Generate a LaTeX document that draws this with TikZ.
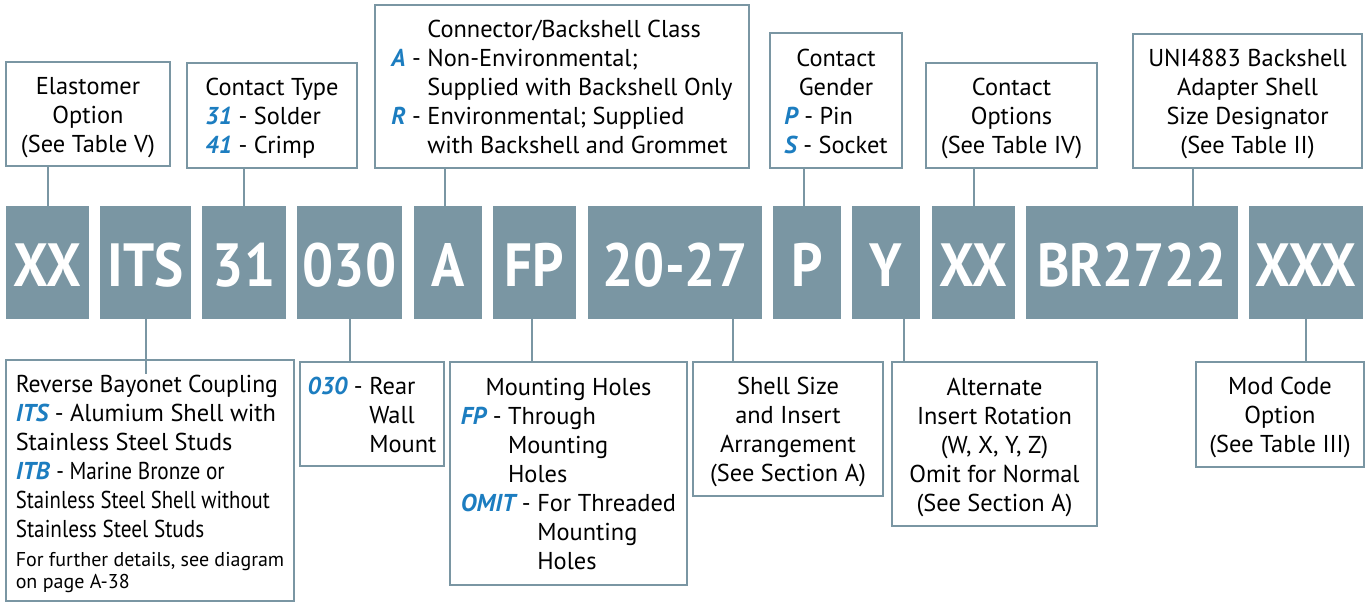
\documentclass[tikz,border=0pt]{standalone}
\usepackage{fontspec}
\setmainfont{PT Sans}
\newfontfamily\codefont[FakeStretch=0.9]{PT Sans}
\usepackage{xcolor}
\usepackage{graphicx}
\usepackage{tikz}

\definecolor{slate}{RGB}{122,150,163}
\definecolor{codeblue}{RGB}{28,125,192}

% blue key letters, centred title rows, squeezed rows
\newcommand{\hl}[1]{\textcolor{codeblue}{\bfseries\itshape #1}}
\newcommand{\ctr}[1]{\multicolumn{1}{@{}c@{}}{#1}}
\newcommand{\squeeze}[2][0.87]{\scalebox{#1}[1]{#2}}
\newcommand{\note}[1]{{\fontsize{10}{11}\selectfont\begin{tabular}[t]{@{}l@{}}#1\end{tabular}}}
\newcommand{\lines}[2]{\raisebox{-1.6pt}[\height][\depth]{\begin{tabular}{@{}#1@{}}#2\end{tabular}}}

\tikzset{
  code/.style={fill=slate, text=white, inner sep=0pt, minimum height=56.5pt,
    text height=24pt, text depth=0pt, font=\codefont\fontsize{30.5}{30.5}\selectfont\bfseries},
  desc/.style={draw=slate, line width=1.3pt, fill=white, inner sep=0pt,
    font=\fontsize{12.2}{14.5}\selectfont},
  wire/.style={draw=slate, line width=1pt}
}

\begin{document}
\begin{tikzpicture}[x=0.5pt,y=-0.5pt]
  \useasboundingbox (0,0) rectangle (1369,602);

  % the part number
  \node[code, minimum width=41.5pt] (xx)  at (47.5,262.5)  {XX};
  \node[code, minimum width=45.5pt] (its) at (145.5,262.5) {ITS};
  \node[code, minimum width=42pt]   (ct)  at (244,262.5)   {31};
  \node[code, minimum width=52.5pt] (rw)  at (349.5,262.5) {030};
  \node[code, minimum width=34pt]   (cls) at (448,262.5)   {A};
  \node[code, minimum width=41.5pt] (fp)  at (534.5,262.5) {FP};
  \node[code, minimum width=87pt]   (sz)  at (675,262.5)   {20-27};
  \node[code, minimum width=34pt]   (pp)  at (807,262.5)   {P};
  \node[code, minimum width=34pt]   (yy)  at (886,262.5)   {Y};
  \node[code, minimum width=41.5pt] (opt) at (973.5,262.5) {XX};
  \node[code, minimum width=106pt]  (br)  at (1132,262.5)  {BR2722};
  \node[code, minimum width=57pt]   (xxx) at (1306,262.5)  {XXX};

  % upper boxes
  \node[desc, minimum width=82pt, minimum height=52pt] (elast) at (88,114)
    {\lines{c}{Elastomer\\Option\\(See Table V)}};
  \node[desc, minimum width=85pt, minimum height=52.5pt] (ctype) at (272,115.5)
    {\lines{l}{Contact Type\\\hl{31} - Solder\\\hl{41} - Crimp}};
  \node[desc, minimum width=187pt, minimum height=81.5pt] (cclass) at (562,86.5)
    {\lines{l}{\phantom{\hl{A} - }Connector/Backshell Class\\
      \hl{A} - Non-Environmental;\\
      \phantom{\hl{A} - }Supplied with Backshell Only\\
      \hl{R} - Environmental; Supplied\\
      \phantom{\hl{R} - }with Backshell and Grommet}};
  \node[desc, minimum width=66pt, minimum height=67.5pt] (gender) at (836,100.5)
    {\lines{l}{\ctr{Contact}\\\ctr{Gender}\\\hl{P} - Pin\\\hl{S} - Socket}};
  \node[desc, minimum width=85.5pt, minimum height=52.5pt] (copts) at (1011.5,115.5)
    {\lines{c}{Contact\\Options\\(See Table IV)}};
  \node[desc, minimum width=114.5pt, minimum height=67pt] (adapter) at (1247.5,101)
    {\lines{c}{UNI4883 Backshell\\Adapter Shell\\Size Designator\\(See Table II)}};

  % lower boxes
  \node[desc, minimum width=144pt, minimum height=120.5pt] (coupling) at (150,480.5)
    {\lines{l}{\squeeze[0.97]{Reverse Bayonet Coupling}\\
      \hl{ITS} - Alumium Shell with\\
      Stainless Steel Studs\\
      \hl{ITB} \squeeze{- Marine Bronze or}\\
      \squeeze[0.85]{Stainless Steel Shell without}\\
      \squeeze{Stainless Steel Studs}\\
      \note{For further details, see diagram\\on page A-38}}};
  \node[desc, minimum width=72pt, minimum height=52pt] (rwall) at (372,414)
    {\lines{l}{\hl{030} - Rear\\\phantom{\hl{030} - }Wall\\\phantom{\hl{030} - }Mount}};
  \node[desc, minimum width=118.5pt, minimum height=111.5pt] (mholes) at (568.5,473.5)
    {\lines{l}{\ctr{Mounting Holes}\\
      \hl{FP} - Through\\
      \phantom{\hl{FP} - }Mounting\\
      \phantom{\hl{FP} - }Holes\\
      \hl{OMIT} - For Threaded\\
      \phantom{\hl{OMIT} - }Mounting\\
      \phantom{\hl{OMIT} - }Holes}};
  \node[desc, minimum width=95pt, minimum height=67pt] (shell) at (788,429)
    {\lines{c}{Shell Size\\and Insert\\Arrangement\\(See Section A)}};
  \node[desc, minimum width=102.5pt, minimum height=82pt] (rotation) at (994.5,444)
    {\lines{c}{Alternate\\Insert Rotation\\(W, X, Y, Z)\\Omit for Normal\\(See Section A)}};
  \node[desc, minimum width=84pt, minimum height=52.5pt] (modcode) at (1280,414.5)
    {\lines{c}{Mod Code\\Option\\(See Table III)}};

  % leader lines
  \draw[wire] (xx.north) -- (xx.north |- elast.south);
  \draw[wire] (ct.north) -- (ct.north |- ctype.south);
  \draw[wire] ([xshift=-1.5pt]cls.north) -- ([xshift=-1.5pt]cls.north |- cclass.south);
  \draw[wire] ([xshift=-1.5pt]pp.north) -- ([xshift=-1.5pt]pp.north |- gender.south);
  \draw[wire] (opt.north) -- (opt.north |- copts.south);
  \draw[wire] ([xshift=30.5pt]br.north) -- ([xshift=30.5pt]br.north |- adapter.south);
  \draw[wire] (its.south) -- ([yshift=-7.5pt]its.south |- coupling.north);
  \draw[wire] (rw.south) -- (rw.south |- rwall.north);
  \draw[wire] ([xshift=-1.25pt]fp.south) -- ([xshift=-1.25pt]fp.south |- mholes.north);
  \draw[wire] ([xshift=29pt]sz.south) -- ([xshift=29pt]sz.south |- shell.north);
  \draw[wire] ([xshift=9pt]yy.south) -- ([xshift=9pt]yy.south |- rotation.north);
  \draw[wire] (xxx.south) -- (xxx.south |- modcode.north);
\end{tikzpicture}
\end{document}
